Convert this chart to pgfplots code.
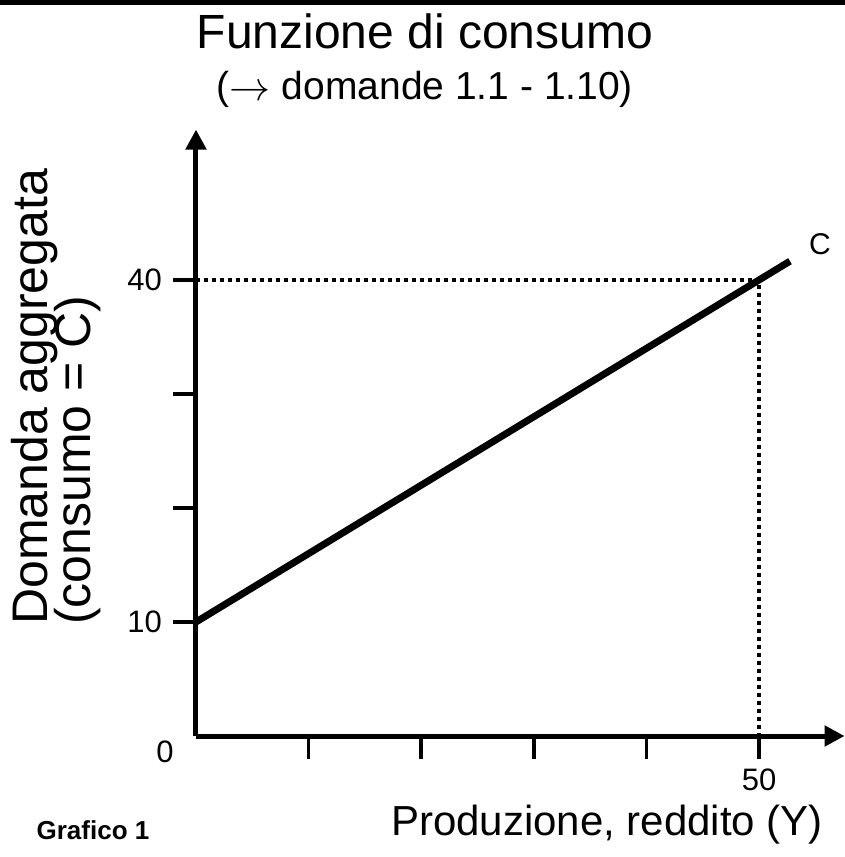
\documentclass[border=0pt]{standalone}
\usepackage{fontspec}
\setmainfont{Liberation Sans}
\usepackage{graphicx}
\usepackage{pgfplots}
\pgfplotsset{compat=1.18}
\usetikzlibrary{arrows.meta}
\begin{document}
\begin{tikzpicture}
\useasboundingbox (-196pt,-121pt) rectangle (649pt,736pt);
\fill[black] (-196pt,736pt) rectangle (649pt,731pt);
\begin{axis}[
  x=11.26pt, y=11.4pt,
  xmin=0, xmax=57.6, ymin=0, ymax=53.2,
  axis lines=left,
  axis line style={line width=5pt, -{Triangle[width=20pt,length=20pt]}},
  clip=false,
  xtick={10,20,30,40,50}, xticklabels={,,,,50},
  ytick={10,20,30,40}, yticklabels={10,,,40},
  tick align=outside,
  major tick length=23pt,
  tick style={line width=3.5pt, black},
  /pgf/number format/assume math mode=true,
  ticklabel style={font=\fontsize{31}{35}\selectfont},
  yticklabel style={inner sep=2pt, xshift=-9pt},
  xticklabel style={inner sep=4pt, yshift=-6pt},
]
\addplot[line width=7pt, black] coordinates {(0,10) (52.75,41.65)};
\addplot[line width=3.5pt, black, dash pattern=on 4pt off 4pt] coordinates {(0,40) (50,40) (50,0)};
\node[font=\fontsize{30}{34}\selectfont] at (axis cs:52.75,41.65) [xshift=30pt, yshift=17pt] {C};
\end{axis}
\node[font=\fontsize{48}{56}\selectfont, anchor=base] at (229pt,687pt) {Funzione di consumo};
\node[font=\fontsize{39}{46}\selectfont, anchor=base] at (229pt,636pt) {(\raisebox{-0.2pt}{\fontsize{10}{12}\selectfont\scalebox{4.1}{$\rightarrow$}} domande 1.1 - 1.10)};
\node[font=\fontsize{50}{58}\selectfont, rotate=90, anchor=base west, inner sep=0pt] at (-148pt,111pt) {Domanda aggregata};
\node[font=\fontsize{50}{58}\selectfont, rotate=90, anchor=base west, inner sep=0pt] at (-105pt,111pt) {(consumo = C)};
\node[font=\fontsize{31}{35}\selectfont] at (-31pt,-16pt) {0};
\node[font=\bfseries\fontsize{26}{30}\selectfont] at (-103pt,-94pt) {Grafico 1};
\node[font=\fontsize{42}{50}\selectfont] at (411pt,-89pt) {Produzione, reddito (Y)};
\end{tikzpicture}
\end{document}
